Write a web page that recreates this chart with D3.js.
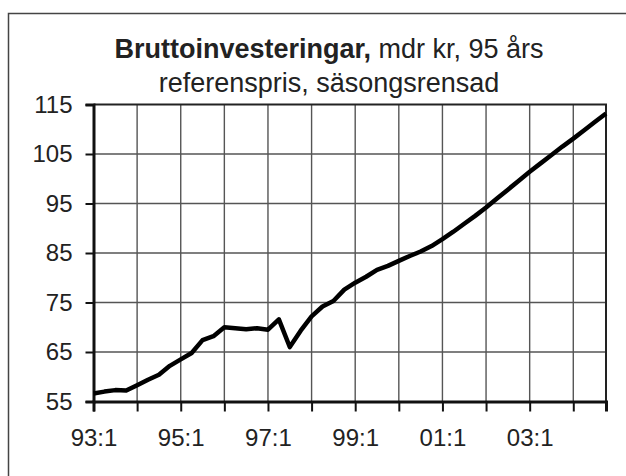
<!DOCTYPE html>
<html>
  <head>
    <meta charset="utf-8" />
    <script src="https://d3js.org/d3.v7.min.js"></script>
    <style>
      body { margin: 0; background: #fff; }
      text { font-family: "Liberation Sans", Arial, sans-serif; fill: #222; }
      .grid line { stroke: #555; stroke-width: 1.4px; }
      .axis path, .axis line { stroke: #111; }
    </style>
  </head>
  <body>
    <svg id="chart" width="626" height="476"></svg>
    <script>

      // years on the category axis, four quarters each
      var years = ["93", "94", "95", "96", "97", "98", "99", "00", "01", "02", "03", "04"];
      var quarters = [1, 2, 3, 4];

      // gross investment, bn SEK, 1995 reference prices, seasonally adjusted
      var investment = [
        56.6, 57.0, 57.3, 57.2,
        58.3, 59.4, 60.4, 62.2,
        63.5, 64.8, 67.4, 68.2,
        70.0, 69.8, 69.6, 69.8,
        69.5, 71.6, 66.0, 69.3,
        72.2, 74.2, 75.3, 77.6,
        79.0, 80.2, 81.6, 82.4,
        83.4, 84.4, 85.3, 86.4,
        87.8, 89.3, 90.9, 92.5,
        94.2, 96.0, 97.8, 99.6,
        101.4, 103.1, 104.8, 106.5,
        108.1, 109.8, 111.5, 113.2
      ];

      var yTicks = [55, 65, 75, 85, 95, 105, 115];
      var xLabelYears = ["93", "95", "97", "99", "01", "03"];

      var categories = [];
      years.forEach(function(yr) {
        quarters.forEach(function(q) { categories.push(yr + ":" + q); });
      });

      var svg = d3.select("#chart");

      var plotLeft = 93.5, plotRight = 606, plotTop = 104.5, plotBottom = 401.5;

      var x = d3.scalePoint()
        .domain(categories)
        .range([plotLeft, plotRight]);

      var y = d3.scaleLinear()
        .domain([55, 115])
        .range([plotBottom, plotTop]);

      // outer frame
      svg.append("rect")
        .attr("x", 8.5).attr("y", 13.5)
        .attr("width", 660).attr("height", 520)
        .attr("fill", "none")
        .attr("stroke", "#444")
        .attr("stroke-width", 1.5);

      // title
      var title = svg.append("text")
        .attr("x", 329)
        .attr("y", 58)
        .attr("text-anchor", "middle")
        .attr("font-size", 27);
      title.append("tspan").attr("font-weight", "bold").text("Bruttoinvesteringar,");
      title.append("tspan").text(" mdr kr, 95 års");

      svg.append("text")
        .attr("x", 329)
        .attr("y", 92)
        .attr("text-anchor", "middle")
        .attr("font-size", 27)
        .text("referenspris, säsongsrensad");

      // grid
      var yearStarts = categories.filter(function(c) { return /:1$/.test(c); });

      var grid = svg.append("g").attr("class", "grid");
      grid.selectAll(".v")
        .data(yearStarts.slice(1))
        .enter().append("line")
        .attr("x1", function(d) { return x(d); })
        .attr("x2", function(d) { return x(d); })
        .attr("y1", plotTop).attr("y2", plotBottom);
      grid.selectAll(".h")
        .data(yTicks.slice(1, -1))
        .enter().append("line")
        .attr("x1", plotLeft).attr("x2", plotRight)
        .attr("y1", function(d) { return y(d); })
        .attr("y2", function(d) { return y(d); });

      // plot border top and right
      svg.append("path")
        .attr("d", "M" + plotLeft + "," + plotTop + "H" + plotRight + "V" + plotBottom)
        .attr("fill", "none")
        .attr("stroke", "#222")
        .attr("stroke-width", 2);

      // axes
      var xAxis = d3.axisBottom(x)
        .tickValues(yearStarts)
        .tickSize(10)
        .tickPadding(17)
        .tickFormat(function(d) {
          return xLabelYears.indexOf(d.split(":")[0]) >= 0 ? d : "";
        });

      var gx = svg.append("g")
        .attr("class", "axis")
        .attr("transform", "translate(0," + plotBottom + ")")
        .call(xAxis);

      var yAxis = d3.axisLeft(y)
        .tickValues(yTicks)
        .tickSize(8)
        .tickPadding(13);

      var gy = svg.append("g")
        .attr("class", "axis")
        .attr("transform", "translate(" + plotLeft + ",0)")
        .call(yAxis);

      [gx, gy].forEach(function(g) {
        g.select(".domain").attr("stroke-width", 3);
        g.selectAll(".tick line").attr("stroke-width", 2);
        g.selectAll("text")
          .attr("font-size", 24)
          .attr("font-family", "Liberation Sans, Arial, sans-serif")
          .attr("fill", "#222");
      });

      // series line
      var line = d3.line()
        .x(function(d, i) { return x(categories[i]); })
        .y(function(d) { return y(d); });

      svg.append("path")
        .datum(investment)
        .attr("d", line)
        .attr("fill", "none")
        .attr("stroke", "#000")
        .attr("stroke-width", 4.5)
        .attr("stroke-linejoin", "round");

    </script>
  </body>
</html>
